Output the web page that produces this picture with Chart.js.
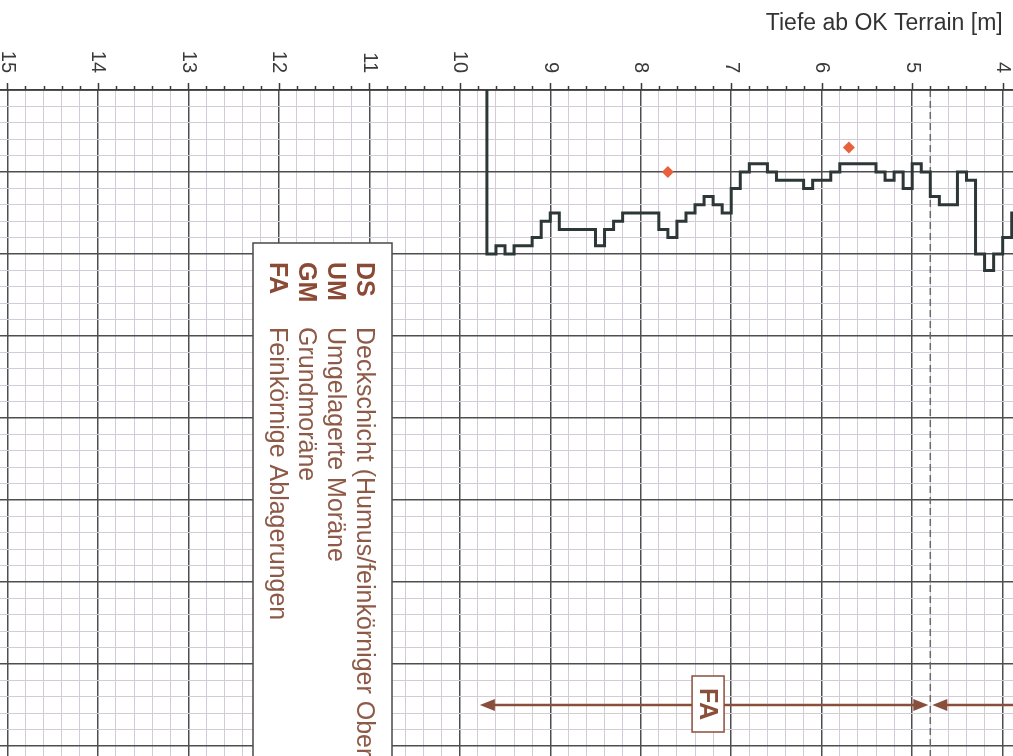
<!DOCTYPE html>
<html>
<head>
<meta charset="utf-8">
<script src="https://cdn.jsdelivr.net/npm/chart.js@4.4.1/dist/chart.umd.min.js"></script>
<style>
  html, body { margin: 0; padding: 0; background: #fff; }
  canvas { display: block; }
</style>
</head>
<body>
<canvas id="chartSondierung" width="1013" height="756"></canvas>
<script>
// Rammsondierung: Schlagzahlen je 10 cm, Tiefe in m
const depths = [3.8, 3.9, 4.0, 4.1, 4.2, 4.3, 4.4, 4.5, 4.6, 4.7, 4.8, 4.9, 5.0, 5.1, 5.2, 5.3, 5.4, 5.5, 5.6, 5.7,
    5.8, 5.9, 6.0, 6.1, 6.2, 6.3, 6.4, 6.5, 6.6, 6.7, 6.8, 6.9, 7.0, 7.1, 7.2, 7.3, 7.4, 7.5, 7.6, 7.7,
    7.8, 7.9, 8.0, 8.1, 8.2, 8.3, 8.4, 8.5, 8.6, 8.7, 8.8, 8.9, 9.0, 9.1, 9.2, 9.3, 9.4, 9.5, 9.6, 9.7]
const blows = [15, 18, 20, 22, 20, 11, 10, 14, 14, 13, 10, 9, 12, 10, 11, 10, 9, 9, 9, 9,
    10, 11, 11, 12, 11, 11, 11, 10, 9, 9, 10, 12, 15, 14, 13, 14, 15, 16, 18, 17,
    15, 15, 15, 15, 16, 17, 19, 17, 17, 17, 17, 15, 16, 18, 19, 19, 20, 19, 20, 0]
const markDepths = [7.7, 5.7]
const markValues = [10, 7]
const depthTicks = [4, 5, 6, 7, 8, 9, 10, 11, 12, 13, 14, 15]

// Schichten (Grenzen in m) und Legende
const layerBounds = [9.8, 4.8, 1.8]
const layerCodes = ['FA', '']
const layerLevel = 75
const legendCodes = ['DS', 'UM', 'GM', 'FA']
const legendNames = ['Deckschicht (Humus/feinkörniger Oberboden)', 'Umgelagerte Moräne', 'Grundmoräne', 'Feinkörnige Ablagerungen']

const FONT = '"Liberation Sans", Arial, sans-serif'
const BROWN = '#8a4f3b'

function isMajorDepth(v) { return Math.abs(v - Math.round(v)) < 0.01 }

function arrowHead(ctx, x, y, dir) {
    ctx.beginPath();
    ctx.moveTo(x, y);
    ctx.lineTo(x + dir * 15, y - 6);
    ctx.lineTo(x + dir * 15, y + 6);
    ctx.closePath();
    ctx.fill();
}

const overlay = {
    id: 'overlay',
    beforeDraw(chart) {
        const ctx = chart.ctx;
        ctx.save();
        ctx.fillStyle = '#ffffff';
        ctx.fillRect(0, 0, chart.width, chart.height);
        ctx.restore();
    },
    afterDraw(chart) {
        const ctx = chart.ctx, xs = chart.scales.x, ys = chart.scales.y, area = chart.chartArea;
        const top = ys.getPixelForValue(0);
        ctx.save();

        // Achse oben mit Strichen
        ctx.strokeStyle = '#3a3a3a';
        ctx.lineWidth = 1.5;
        ctx.beginPath();
        ctx.moveTo(area.left, top);
        ctx.lineTo(area.right, top);
        xs.ticks.forEach(t => {
            const x = Math.round(xs.getPixelForValue(t.value)) + 0.5;
            ctx.moveTo(x, top);
            ctx.lineTo(x, top - (isMajorDepth(t.value) ? 7 : 4));
        });
        ctx.stroke();

        // Beschriftung gedreht
        ctx.fillStyle = '#3a3a3a';
        ctx.font = '20px ' + FONT;
        depthTicks.forEach(d => {
            ctx.save();
            ctx.translate(xs.getPixelForValue(d), top - 17);
            ctx.rotate(Math.PI / 2);
            ctx.textAlign = 'right';
            ctx.textBaseline = 'middle';
            ctx.fillText(String(d), 0, 0);
            ctx.restore();
        });

        ctx.font = '23px ' + FONT;
        ctx.fillStyle = '#333333';
        ctx.textAlign = 'right';
        ctx.textBaseline = 'alphabetic';
        ctx.fillText('Tiefe ab OK Terrain [m]', xs.getPixelForValue(4), 30);

        // Schichtpfeile
        const ya = ys.getPixelForValue(layerLevel);
        ctx.strokeStyle = BROWN;
        ctx.fillStyle = BROWN;
        ctx.lineWidth = 2.5;
        layerCodes.forEach((code, i) => {
            const x1 = xs.getPixelForValue(layerBounds[i]) + 2;
            const x2 = xs.getPixelForValue(layerBounds[i + 1]) - 2;
            ctx.beginPath();
            ctx.moveTo(x1 + 10, ya);
            ctx.lineTo(x2 - 10, ya);
            ctx.stroke();
            arrowHead(ctx, x1, ya, 1);
            arrowHead(ctx, x2, ya, -1);
            if (code) {
                const xm = (x1 + x2) / 2 + 4;
                ctx.save();
                ctx.fillStyle = '#ffffff';
                ctx.fillRect(xm - 16, ya - 29, 32, 56);
                ctx.lineWidth = 1.5;
                ctx.strokeRect(xm - 16, ya - 29, 32, 56);
                ctx.translate(xm, ya);
                ctx.rotate(Math.PI / 2);
                ctx.fillStyle = BROWN;
                ctx.font = 'bold 25px ' + FONT;
                ctx.textAlign = 'center';
                ctx.textBaseline = 'middle';
                ctx.fillText(code, -1, 1);
                ctx.restore();
            }
        });

        // Legende
        const lx = 253, ly = 243, lw = 139;
        ctx.fillStyle = '#ffffff';
        ctx.fillRect(lx, ly, lw, chart.height - ly + 10);
        ctx.strokeStyle = '#4a4a4a';
        ctx.lineWidth = 1.5;
        ctx.strokeRect(lx, ly, lw, chart.height - ly + 10);
        ctx.save();
        ctx.translate(lx + 104, ly + 19);
        ctx.rotate(Math.PI / 2);
        ctx.textAlign = 'left';
        ctx.textBaseline = 'alphabetic';
        legendCodes.forEach((code, i) => {
            ctx.fillStyle = '#8a4a36';
            ctx.font = 'bold 25px ' + FONT;
            ctx.fillText(code, 0, i * 29);
            ctx.fillStyle = '#8e5a48';
            ctx.font = '25px ' + FONT;
            ctx.fillText(legendNames[i], 65, i * 29);
        });
        ctx.restore();

        ctx.restore();
    }
};

const dashDepth = layerBounds[1];

var ctxSond = document.getElementById('chartSondierung').getContext('2d');
var chartSond = new Chart(ctxSond, {
    type: 'line',
    data: {
        datasets: [
            {
                data: depths.map((d, i) => ({ x: d, y: blows[i] })),
                stepped: 'before',
                borderColor: '#2e3737',
                borderWidth: 3,
                pointRadius: 0,
                fill: false
            },
            {
                data: markDepths.map((d, i) => ({ x: d, y: markValues[i] })),
                showLine: false,
                pointStyle: 'rectRot',
                pointRadius: 6,
                pointBackgroundColor: '#e8613c',
                pointBorderWidth: 0
            },
            {
                data: [{ x: dashDepth, y: 0 }, { x: dashDepth, y: 81.22 }],
                borderColor: '#6a6a6a',
                borderWidth: 1.5,
                borderDash: [7, 4],
                pointRadius: 0,
                fill: false
            }
        ]
    },
    options: {
        responsive: false,
        devicePixelRatio: 1,
        animation: false,
        layout: { autoPadding: false, padding: { top: 90, left: 0, right: 0, bottom: 0 } },
        plugins: { legend: { display: false }, tooltip: { enabled: false } },
        scales: {
            x: {
                type: 'linear',
                position: 'top',
                reverse: true,
                min: 3.886,
                max: 15.081,
                border: { display: false },
                ticks: { display: false, stepSize: 0.2, includeBounds: false, autoSkip: false },
                grid: {
                    drawTicks: false,
                    color: c => isMajorDepth(c.tick.value) ? '#4e4e4e' : '#d3ccd8',
                    lineWidth: c => isMajorDepth(c.tick.value) ? 1.5 : 1
                }
            },
            y: {
                type: 'linear',
                reverse: true,
                min: 0,
                max: 81.22,
                border: { display: false },
                ticks: { display: false, stepSize: 2, includeBounds: false, autoSkip: false },
                grid: {
                    drawTicks: false,
                    color: c => c.tick.value % 10 === 0 ? '#4e4e4e' : '#d3ccd8',
                    lineWidth: c => c.tick.value % 10 === 0 ? 1.5 : 1
                }
            }
        }
    },
    plugins: [overlay]
});
</script>
</body>
</html>
